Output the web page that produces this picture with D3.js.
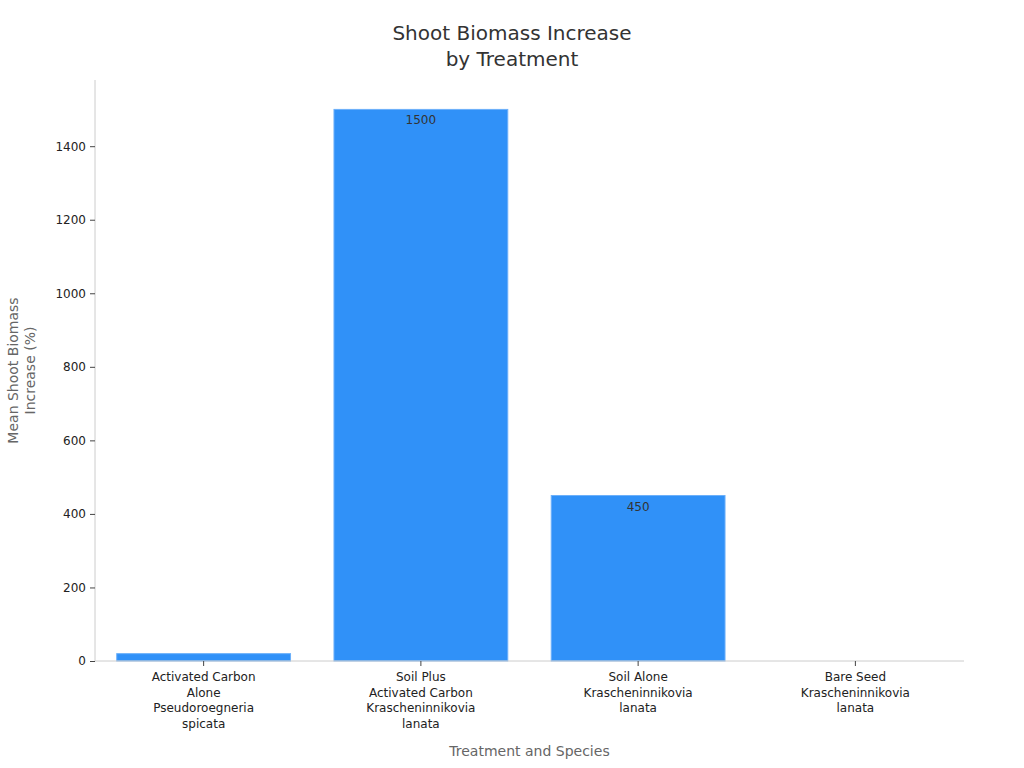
<!DOCTYPE html>
<html>
<head>
<meta charset="utf-8">
<script src="https://d3js.org/d3.v7.min.js"></script>
<style>
  body { margin: 0; background: #fff; }
  text { font-family: "DejaVu Sans", sans-serif; }
</style>
</head>
<body>
<svg id="chart" width="1024" height="768"></svg>
<script>
// data
var categories = [
  ["Activated Carbon", "Alone", "Pseudoroegneria", "spicata"],
  ["Soil Plus", "Activated Carbon", "Krascheninnikovia", "lanata"],
  ["Soil Alone", "Krascheninnikovia", "lanata"],
  ["Bare Seed", "Krascheninnikovia", "lanata"]
];
var values = [20, 1500, 450, 0];
var yTicks = [0, 200, 400, 600, 800, 1000, 1200, 1400];

var margin = { top: 80, right: 60, bottom: 107, left: 95 };
var W = 1024, H = 768;
var w = W - margin.left - margin.right, h = H - margin.top - margin.bottom;

var svg = d3.select("#chart");
var g = svg.append("g").attr("transform", "translate(" + margin.left + "," + margin.top + ")");

var x = d3.scaleBand().domain(d3.range(categories.length)).range([0, w])
    .paddingInner(0.2).paddingOuter(0.1);
var y = d3.scaleLinear().domain([0, 1580]).range([h, 0]);

// title
svg.append("text").attr("x", 512).attr("y", 40).attr("text-anchor", "middle")
    .style("font-size", "20px").style("fill", "#333").text("Shoot Biomass Increase");
svg.append("text").attr("x", 512).attr("y", 66).attr("text-anchor", "middle")
    .style("font-size", "20px").style("fill", "#333").text("by Treatment");

// bars
g.selectAll("rect.bar").data(values).enter().append("rect")
    .attr("class", "bar")
    .attr("x", function (d, i) { return x(i); })
    .attr("width", x.bandwidth())
    .attr("y", function (d) { return y(d); })
    .attr("height", function (d) { return h - y(d); })
    .style("fill", "#3091f8")
    .style("stroke", "#6cb0fa")
    .style("stroke-width", 1);

// value labels inside top of tall bars
g.selectAll("text.val").data(values.filter(function (d) { return d > 100; })).enter().append("text")
    .attr("class", "val")
    .attr("x", function (d) { return x(values.indexOf(d)) + x.bandwidth() / 2; })
    .attr("y", function (d) { return y(d) + 15; })
    .attr("text-anchor", "middle")
    .style("font-size", "12px").style("fill", "#333")
    .text(function (d) { return d; });

// y axis
var yAxis = g.append("g").call(d3.axisLeft(y).tickValues(yTicks).tickFormat(d3.format("d"))
    .tickSize(5).tickPadding(4));
yAxis.select(".domain").attr("d", "M0,0V" + h).style("stroke", "#ccc");
yAxis.selectAll(".tick line").style("stroke", "#444");
yAxis.selectAll(".tick text").style("font-size", "12px").style("fill", "#222")
    .style("font-family", "DejaVu Sans, sans-serif");

// x axis
var xAxis = g.append("g").attr("transform", "translate(0," + h + ")")
    .call(d3.axisBottom(x).tickSize(5).tickFormat(""));
xAxis.select(".domain").attr("d", "M0,0H" + w).style("stroke", "#ccc");
xAxis.selectAll(".tick line").style("stroke", "#444");
xAxis.selectAll(".tick").each(function (d) {
  var t = d3.select(this).append("text")
      .attr("y", 20).attr("text-anchor", "middle")
      .style("font-size", "12px").style("fill", "#222")
      .style("font-family", "DejaVu Sans, sans-serif");
  categories[d].forEach(function (line, k) {
    t.append("tspan").attr("x", 0).attr("y", 20 + k * 15.5).text(line);
  });
});

// axis titles
svg.append("text").attr("x", margin.left + w / 2).attr("y", 756).attr("text-anchor", "middle")
    .style("font-size", "14px").style("fill", "#666").text("Treatment and Species");
var yt = svg.append("text").attr("transform", "translate(18," + (margin.top + h / 2) + ") rotate(-90)")
    .attr("text-anchor", "middle").style("font-size", "14px").style("fill", "#666");
yt.append("tspan").attr("x", 0).attr("y", 0).text("Mean Shoot Biomass");
yt.append("tspan").attr("x", 0).attr("y", 17).text("Increase (%)");
</script>
</body>
</html>
